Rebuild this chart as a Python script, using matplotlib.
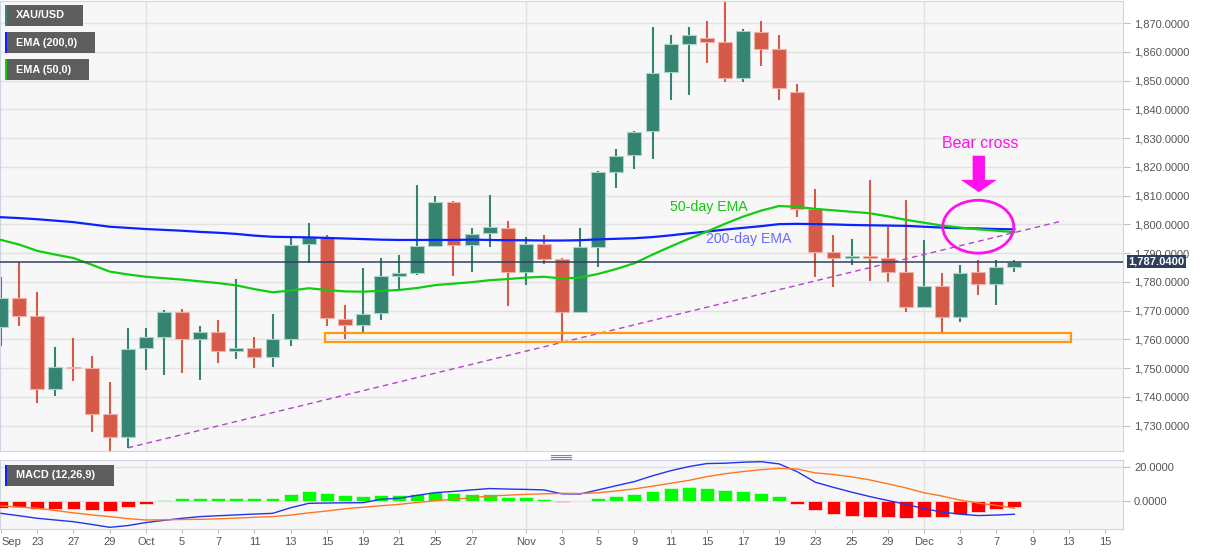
import numpy as np
import matplotlib.pyplot as plt
from matplotlib.patches import Rectangle, Ellipse, FancyArrow
from matplotlib.lines import Line2D
from matplotlib.ticker import FuncFormatter

plt.rcParams['font.family'] = ['Liberation Sans', 'DejaVu Sans']

# daily XAU/USD candles, Sep 21 - Dec 8
days = ["Sep 21", "Sep 22", "Sep 23", "Sep 24", "Sep 27", "Sep 28", "Sep 29", "Sep 30",
        "Oct 1", "Oct 4", "Oct 5", "Oct 6", "Oct 7", "Oct 8", "Oct 11", "Oct 12", "Oct 13",
        "Oct 14", "Oct 15", "Oct 18", "Oct 19", "Oct 20", "Oct 21", "Oct 22", "Oct 25",
        "Oct 26", "Oct 27", "Oct 28", "Oct 29", "Nov 1", "Nov 2", "Nov 3", "Nov 4", "Nov 5",
        "Nov 8", "Nov 9", "Nov 10", "Nov 11", "Nov 12", "Nov 15", "Nov 16", "Nov 17",
        "Nov 18", "Nov 19", "Nov 22", "Nov 23", "Nov 24", "Nov 25", "Nov 26", "Nov 29",
        "Nov 30", "Dec 1", "Dec 2", "Dec 3", "Dec 6", "Dec 7", "Dec 8"]

opens = [1764.2, 1774.5, 1768.2, 1742.8, 1750.5, 1750.0, 1734.0, 1726.2, 1756.9, 1760.9,
         1769.4, 1760.1, 1762.7, 1755.9, 1756.9, 1754.0, 1760.0, 1793.1, 1795.7, 1767.0,
         1765.0, 1769.3, 1782.2, 1783.0, 1792.6, 1807.7, 1792.9, 1796.9, 1798.9, 1783.4,
         1793.2, 1787.9, 1769.7, 1792.1, 1818.2, 1824.2, 1832.5, 1852.9, 1862.8, 1864.9,
         1863.4, 1850.9, 1866.9, 1861.0, 1845.9, 1805.4, 1790.5, 1788.2, 1789.0, 1788.2,
         1783.4, 1771.2, 1778.6, 1767.9, 1783.4, 1779.2, 1785.1]
highs = [1781.8, 1787.1, 1776.5, 1757.5, 1760.5, 1754.2, 1745.3, 1764.1, 1764.1, 1770.2,
         1770.6, 1764.7, 1766.8, 1781.0, 1760.7, 1769.0, 1795.5, 1800.4, 1796.2, 1772.0,
         1784.8, 1788.3, 1789.4, 1813.7, 1809.9, 1808.2, 1798.8, 1810.3, 1801.1, 1795.5,
         1796.3, 1788.2, 1798.7, 1818.5, 1826.3, 1832.5, 1868.8, 1865.9, 1868.8, 1870.6,
         1877.2, 1867.9, 1870.8, 1865.9, 1849.0, 1812.3, 1796.3, 1795.0, 1815.5, 1799.2,
         1808.5, 1794.6, 1783.0, 1785.9, 1787.6, 1787.6, 1787.5]
lows = [1757.8, 1764.8, 1737.8, 1740.4, 1745.6, 1727.9, 1721.3, 1722.1, 1749.4, 1747.6,
        1748.4, 1745.9, 1751.9, 1753.2, 1750.2, 1750.5, 1757.8, 1786.7, 1764.8, 1760.3,
        1762.7, 1766.8, 1776.7, 1782.5, 1792.3, 1782.2, 1783.6, 1792.3, 1771.7, 1779.1,
        1786.4, 1759.6, 1769.1, 1785.1, 1812.6, 1819.2, 1822.7, 1843.1, 1845.1, 1856.3,
        1849.7, 1849.7, 1855.2, 1843.1, 1802.5, 1781.8, 1778.4, 1785.9, 1780.4, 1780.1,
        1769.7, 1770.8, 1762.3, 1766.2, 1775.5, 1772.0, 1783.6]
closes = [1774.5, 1768.2, 1742.8, 1750.5, 1749.9, 1734.0, 1726.2, 1756.7, 1760.9, 1769.4,
          1760.1, 1762.7, 1755.9, 1756.9, 1754.0, 1760.0, 1792.9, 1795.5, 1767.4, 1765.0,
          1769.0, 1782.1, 1783.0, 1792.5, 1807.7, 1792.9, 1796.7, 1799.0, 1783.5, 1793.2,
          1787.9, 1769.7, 1792.1, 1818.2, 1823.9, 1832.3, 1852.8, 1862.8, 1865.9, 1863.4,
          1850.9, 1867.1, 1861.1, 1847.4, 1805.4, 1790.3, 1788.2, 1789.0, 1788.2, 1783.6,
          1771.2, 1778.6, 1767.9, 1783.0, 1779.2, 1785.3, 1787.04]

ema200 = [1802.5, 1802.2, 1801.8, 1801.3, 1800.8, 1800.0, 1799.2, 1798.8, 1798.4, 1798.1,
          1797.8, 1797.4, 1797.1, 1796.7, 1796.1, 1795.7, 1795.6, 1795.5, 1795.3, 1795.1,
          1794.9, 1794.7, 1794.6, 1794.6, 1794.6, 1794.6, 1794.7, 1794.6, 1794.5, 1794.5,
          1794.4, 1794.4, 1794.5, 1794.8, 1795.0, 1795.2, 1795.6, 1796.2, 1796.9, 1797.5,
          1798.2, 1798.8, 1799.4, 1800.1, 1800.2, 1800.1, 1800.0, 1799.8, 1799.7, 1799.6,
          1799.5, 1799.2, 1798.9, 1798.7, 1798.6, 1798.4, 1798.3]
ema50 = [1794.6, 1793.0, 1790.8, 1789.5, 1788.3, 1786.0, 1783.6, 1782.6, 1781.8, 1781.3,
         1780.8, 1780.2, 1779.6, 1778.8, 1777.5, 1776.4, 1777.0, 1777.8, 1777.2, 1776.7,
         1776.6, 1776.9, 1777.2, 1777.9, 1778.9, 1779.4, 1779.9, 1780.6, 1781.0, 1781.5,
         1781.8, 1781.2, 1781.5, 1782.8, 1784.5, 1786.5, 1789.5, 1792.3, 1795.0, 1797.5,
         1800.2, 1802.7, 1804.8, 1806.4, 1806.1, 1805.4, 1804.9, 1804.4, 1803.9, 1802.8,
         1801.6, 1800.6, 1799.6, 1798.9, 1798.3, 1797.8, 1797.3]

macd = [-7.3, -8.7, -10.2, -11.2, -12.2, -13.8, -15.5, -14.5, -12.7, -11.4,
        -10.2, -9.2, -8.7, -8.2, -7.7, -7.3, -4.0, -1.4, -1.2, -1.1,
        -1.0, 1.0, 1.6, 3.3, 4.9, 5.6, 6.5, 7.3, 7.0, 6.8,
        6.5, 4.2, 4.1, 6.5, 9.0, 11.4, 14.8, 17.8, 20.2, 22.0,
        22.2, 22.8, 23.1, 21.8, 17.2, 11.0, 8.0, 5.2, 2.6, 0.3,
        -2.0, -4.5, -6.5, -7.8, -8.6, -8.3, -7.8]
signal = [-2.9, -3.6, -4.3, -5.6, -7.0, -8.2, -9.2, -10.4, -11.2, -11.1,
          -10.9, -10.8, -10.5, -10.1, -9.6, -9.2, -8.3, -7.0, -5.9, -4.6,
          -3.7, -2.8, -2.0, -0.9, 0.1, 1.0, 1.9, 2.9, 3.4, 3.9,
          4.2, 4.5, 4.4, 4.8, 5.9, 7.1, 8.7, 10.4, 12.1, 14.3,
          16.0, 17.3, 18.4, 19.2, 18.8, 16.5, 15.6, 14.2, 12.4, 10.1,
          7.7, 4.8, 2.9, 0.5, -1.2, -2.6, -4.3]
hist = [-4.3, -3.7, -4.9, -4.9, -4.7, -5.1, -5.7, -3.3, -1.8, 0.5,
        1.6, 2.0, 2.0, 2.0, 1.6, 2.0, 4.1, 5.9, 4.5, 3.5,
        2.9, 3.5, 3.5, 3.9, 5.1, 4.7, 4.3, 3.9, 2.5, 2.2,
        1.4, -0.4, -0.2, 1.8, 3.1, 4.3, 6.1, 7.5, 8.2, 7.6,
        6.3, 5.9, 4.7, 2.7, -1.5, -5.3, -7.6, -8.8, -9.2, -9.4,
        -9.8, -9.2, -9.2, -7.6, -6.5, -4.9, -3.5]

tick_idx = [0, 2, 4, 6, 8, 10, 12, 14, 16, 18, 20, 22, 24, 26, 29, 31, 33, 35, 37, 39,
            41, 43, 45, 47, 49, 51, 53, 55, 57, 59, 61]
tick_lbl = ["Sep", "23", "27", "29", "Oct", "5", "7", "11", "13", "15", "19", "21", "25",
            "27", "Nov", "3", "5", "9", "11", "15", "17", "19", "23", "25", "29", "Dec",
            "3", "7", "9", "13", "15"]
month_idx = [8, 29, 51]
last_price = 1787.04

# annotation geometry (bar index, price)
trend_x = [7.0, 58.7]
trend_y = [1722.3, 1801.3]
zone = (17.9, 1759.0, 41.2, 3.1)

W, H = 1207, 555
fig = plt.figure(figsize=(W / 100, H / 100), dpi=100, facecolor='white')


def fx(px):
    return px / W


def fy(py):
    return 1 - py / H


ax = fig.add_axes([0, fy(451), fx(1123), (451 - 1) / H])
ax2 = fig.add_axes([0, fy(529), fx(1123), (529 - 460) / H])

up_c, dn_c = '#358472', '#d65a48'
up_e, dn_e = '#a8d4c8', '#f2b0a6'
spine_c = '#cdd4e2'

x = np.arange(len(days))
o, h, l, c = map(np.array, (opens, highs, lows, closes))
up = c >= o
col = np.where(up, up_c, dn_c)
edge = np.where(up, up_e, dn_e)
body_lo = np.minimum(o, c)
body_h = np.maximum(np.abs(c - o), 0.6)

ax.vlines(x, l, h, colors=col, lw=1.5, zorder=2)
ax.bar(x, body_h, bottom=body_lo, width=0.77, color=col, edgecolor=edge, lw=0.8, zorder=3)
ax.plot(x, ema200, color='#0a22ff', lw=1.6, zorder=4)
ax.plot(x, ema50, color='#11cc11', lw=1.6, zorder=4)
ax.plot(trend_x, trend_y, color='#b444c8', lw=1, ls=(0, (4, 3)), zorder=4)
ax.add_patch(Rectangle(zone[:2], zone[2], zone[3], fill=False, ec='#ff9a10', lw=1.6, zorder=4))
ax.axhline(last_price, color='#2e3f5e', lw=1.1, zorder=5)

ax.add_patch(Ellipse((54.0, 1799.2), 3.92, 18.4, fill=False, ec='#ff11ee', lw=2, zorder=6))
ax.add_patch(FancyArrow(54.03, 1823.9, 0, -12.7, width=0.68, head_width=1.99, head_length=4.3,
                        length_includes_head=True, color='#ff11ee', lw=0, zorder=6))
ax.text(54.1, 1828.0, "Bear cross", color='#ff11ee', fontsize=11.5, ha='center', va='center')
ax.text(39.1, 1806.0, "50-day EMA", color='#11c811', fontsize=10.2, ha='center', va='center')
ax.text(41.3, 1795.0, "200-day EMA", color='#6b6bff', fontsize=10.2, ha='center', va='center')

ax.annotate(f"{last_price:,.4f}", xy=(1, last_price), xycoords=('axes fraction', 'data'),
            xytext=(4, 0), textcoords='offset points', ha='left', va='center',
            color='white', fontsize=8, fontweight='bold', zorder=10, annotation_clip=False,
            bbox=dict(boxstyle='square,pad=0.15', fc='#2e3f5e', ec='none'))

# MACD panel
hcol = np.where(np.array(hist) >= 0, '#00ff00', '#ff0000')
ax2.bar(x, hist, width=0.77, color=hcol, edgecolor='#f0f0f0', lw=0.5, zorder=3)
ax2.plot(x, macd, color='#2233ee', lw=1, zorder=4)
ax2.plot(x, signal, color='#ff7722', lw=1, zorder=4)

for a in (ax, ax2):
    a.set_facecolor('#f7f7f7')
    a.set_xlim(-0.06, 62.0)
    for m in month_idx:
        a.axvline(m, color='#e2e2e2', lw=1, zorder=0)
    a.grid(axis='y', color='#e2e2e2', lw=1, zorder=0)
    a.set_axisbelow(True)
    a.yaxis.tick_right()
    a.tick_params(axis='y', length=5, color='#b8c0d0', labelsize=8, labelcolor='#555555', pad=3)
    for s in a.spines.values():
        s.set_color(spine_c)

ax.set_ylim(1721.2, 1877.7)
ax.set_yticks(range(1730, 1871, 10))
ax.yaxis.set_major_formatter(FuncFormatter(lambda v, p: f"{v:,.4f}"))
ax.set_xticks([])

ax2.set_ylim(-16.5, 24.1)
ax2.set_yticks([0, 20])
ax2.yaxis.set_major_formatter(FuncFormatter(lambda v, p: f"{v:,.4f}"))
ax2.set_xticks(tick_idx, tick_lbl)
ax2.tick_params(axis='x', length=3, color='#b8c0d0', labelsize=8, labelcolor='#555555', pad=3)
ax2.get_xticklabels()[0].set_ha('left')

# series boxes, top left
boxes = [("XAU/USD", 5, 83, 5, 26, '#2e8b78'),
         ("EMA (200,0)", 5, 95, 32, 53, '#0a22ff'),
         ("EMA (50,0)", 5, 89, 59, 80, '#11cc11'),
         ("MACD (12,26,9)", 5, 114, 465, 486, '#0a22ff')]
for name, x0, x1, y0, y1, sc in boxes:
    fig.add_artist(Rectangle((fx(x0), fy(y1)), fx(x1 - x0), (y1 - y0) / H,
                             transform=fig.transFigure, fc='#5e5e5e', ec='none', zorder=8))
    fig.add_artist(Rectangle((fx(x0), fy(y1)), fx(2), (y1 - y0) / H,
                             transform=fig.transFigure, fc=sc, ec='none', zorder=9))
    fig.text(fx(16), fy((y0 + y1) / 2), name, color='white', fontsize=7.8, fontweight='bold',
             va='center', ha='left', zorder=10)

# drag handle between the panels
for yy in (454.5, 456.5, 458.5):
    fig.add_artist(Line2D([fx(551), fx(571)], [fy(yy), fy(yy)], color='#888888', lw=0.8,
                          transform=fig.transFigure))

fig.savefig("out.png", dpi=100, facecolor='white')
